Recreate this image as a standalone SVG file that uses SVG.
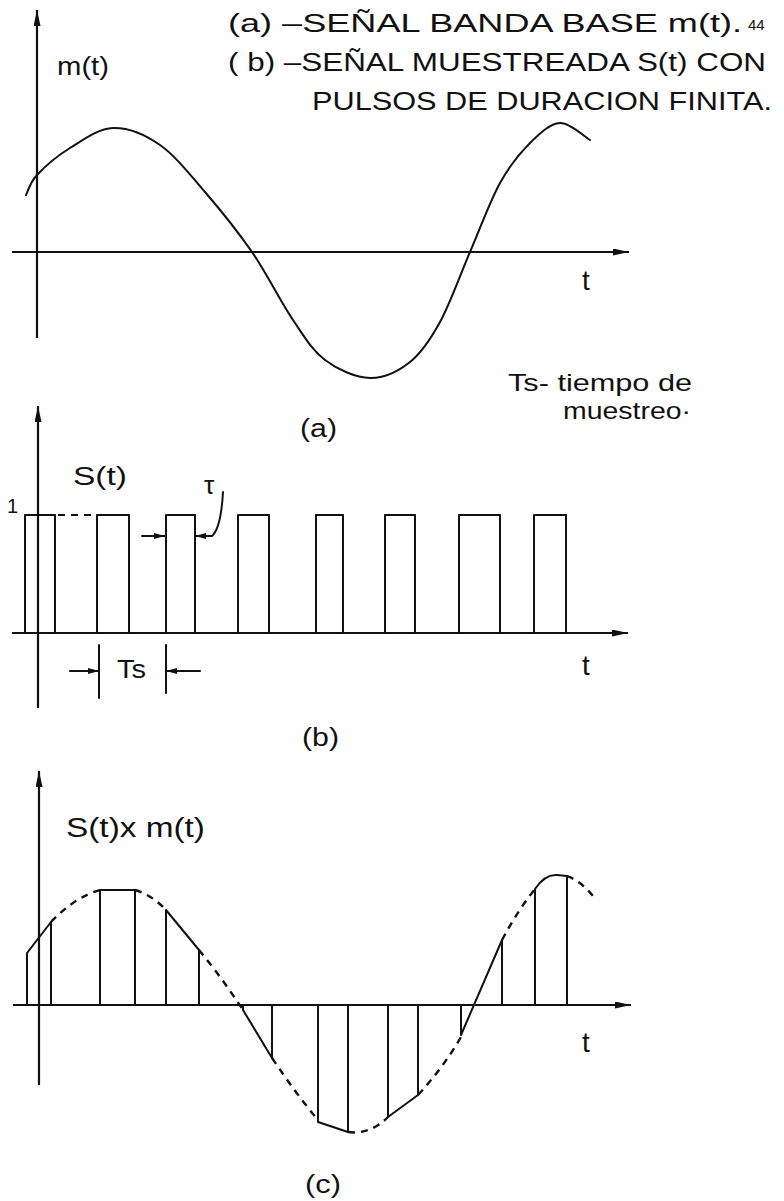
<svg xmlns="http://www.w3.org/2000/svg" width="784" height="1201" viewBox="0 0 784 1201">
<style>
  .ln{fill:none;stroke:#111;stroke-width:2;stroke-linejoin:round;stroke-linecap:round}
  .ax{fill:none;stroke:#111;stroke-width:2.2}
  .dash{fill:none;stroke:#111;stroke-width:2.4;stroke-dasharray:7 6}
  .tx{font-family:"Liberation Sans",Arial,sans-serif;fill:#111}
</style>
<defs>
  <marker id="ah" viewBox="0 0 16 7" refX="16" refY="3.5" markerWidth="16" markerHeight="7" markerUnits="userSpaceOnUse" orient="auto">
    <path d="M0,0 L16,3.5 L0,7 z" fill="#111"/>
  </marker>
  <marker id="sh" viewBox="0 0 11 6" refX="11" refY="3" markerWidth="11" markerHeight="6" markerUnits="userSpaceOnUse" orient="auto">
    <path d="M0,0 L11,3 L0,6 z" fill="#111"/>
  </marker>
</defs>
<rect width="784" height="1201" fill="#fff"/>

<g id="title">
  <text class="tx" x="228" y="32" font-size="26" textLength="514" lengthAdjust="spacingAndGlyphs">(a) –SEÑAL BANDA BASE m(t).</text>
  <text class="tx" x="748" y="30" font-size="15">44</text>
  <text class="tx" x="228" y="71" font-size="26" textLength="538" lengthAdjust="spacingAndGlyphs">( b) –SEÑAL MUESTREADA S(t) CON</text>
  <text class="tx" x="312" y="110" font-size="26" textLength="460" lengthAdjust="spacingAndGlyphs">PULSOS DE DURACION FINITA.</text>
</g>

<g id="panel-a">
  <line class="ax" x1="37" y1="338" x2="37" y2="10" marker-end="url(#ah)"/>
  <line class="ax" x1="12" y1="252" x2="629" y2="252" marker-end="url(#ah)"/>
  <path class="ln" d="M26,195 C27.8,191.7 29.7,182.8 37,175 C44.3,167.2 57.3,155.8 70,148 C82.7,140.2 98,128.5 113,128 C128,127.5 144.7,134.3 160,145 C175.3,155.7 189.7,174.2 205,192 C220.3,209.8 237.3,230.7 252,252 C266.7,273.3 280.8,302 293,320 C305.2,338 312.2,350.3 325,360 C337.8,369.7 355.8,377.7 370,378 C384.2,378.3 398.3,371.3 410,362 C421.7,352.7 430,340.3 440,322 C450,303.7 460,275.2 470,252 C480,228.8 490,201.2 500,183 C510,164.8 520,153 530,143 C540,133 550,123.5 560,123 C570,122.5 585,137.2 590,140"/>
  <text class="tx" x="57" y="75" font-size="26" textLength="52" lengthAdjust="spacingAndGlyphs">m(t)</text>
  <text class="tx" x="582" y="290" font-size="28">t</text>
  <text class="tx" x="300" y="437" font-size="26" textLength="37" lengthAdjust="spacingAndGlyphs">(a)</text>
  <text class="tx" x="508" y="391" font-size="24" textLength="184" lengthAdjust="spacingAndGlyphs">Ts- tiempo de</text>
  <text class="tx" x="563" y="419" font-size="24" textLength="128" lengthAdjust="spacingAndGlyphs">muestreo·</text>
</g>

<g id="panel-b">
  <line class="ax" x1="38" y1="708" x2="38" y2="406" marker-end="url(#ah)"/>
  <line class="ax" x1="12" y1="633" x2="628" y2="633" marker-end="url(#ah)"/>
  <path class="ln" d="M25,633 V515 H55 V633 M97,633 V515 H129 V633 M166,633 V515 H195 V633 M238,633 V515 H269 V633 M316,633 V515 H343 V633 M385,633 V515 H415 V633 M459,633 V515 H500 V633 M534,633 V515 H566 V633"/>
  <line class="dash" x1="58" y1="515" x2="96" y2="515" style="stroke-width:2"/>
  <text class="tx" x="7" y="513" font-size="20">1</text>
  <text class="tx" x="73" y="485" font-size="26" textLength="54" lengthAdjust="spacingAndGlyphs">S(t)</text>
  <text class="tx" x="204" y="494" font-size="26" font-family="DejaVu Sans">τ</text>
  <line class="ln" x1="142" y1="536" x2="165" y2="536" marker-end="url(#sh)"/>
  <path class="ln" d="M223,492 Q221,528 212,536 L195,536" marker-end="url(#sh)"/>
  <line class="ln" x1="99" y1="645" x2="99" y2="698"/>
  <line class="ln" x1="166" y1="645" x2="166" y2="693"/>
  <line class="ln" x1="70" y1="671" x2="99" y2="671" marker-end="url(#sh)"/>
  <line class="ln" x1="200" y1="671" x2="166" y2="671" marker-end="url(#sh)"/>
  <text class="tx" x="117" y="678" font-size="26" textLength="29" lengthAdjust="spacingAndGlyphs">Ts</text>
  <text class="tx" x="582" y="675" font-size="28">t</text>
  <text class="tx" x="302" y="746" font-size="26" textLength="37" lengthAdjust="spacingAndGlyphs">(b)</text>
</g>

<g id="panel-c">
  <line class="ax" x1="39" y1="1085" x2="39" y2="771" marker-end="url(#ah)"/>
  <line class="ax" x1="13" y1="1005" x2="631" y2="1005" marker-end="url(#ah)"/>
  <path class="ln" d="M27,1005 V953 L51,922 V1005 M100,1005 V890 H135 V1005 M166,1005 V910 L199,950 V1005 M243,1005 V1010 L272,1058 V1005 M318,1005 V1122 L348,1132 V1005 M388,1005 V1117 L418,1095 V1005 M461,1005 V1035 L502,940 V1005 M535,1005 V889 Q545,874 557,875 L567,876 V1005"/>
  <path class="dash" d="M51,922 Q75,897 100,890 M135,890 Q152,895 166,910 M199,950 Q222,978 243,1010 M272,1058 Q297,1095 318,1120 M348,1132 Q370,1135 388,1117 M418,1095 Q443,1068 461,1037 M502,940 Q518,910 535,889 M567,876 Q583,882 596,900"/>
  <text class="tx" x="66" y="837" font-size="27" textLength="139" lengthAdjust="spacingAndGlyphs">S(t)x m(t)</text>
  <text class="tx" x="582" y="1052" font-size="28">t</text>
  <text class="tx" x="305" y="1193" font-size="26" textLength="36" lengthAdjust="spacingAndGlyphs">(c)</text>
</g>
</svg>
